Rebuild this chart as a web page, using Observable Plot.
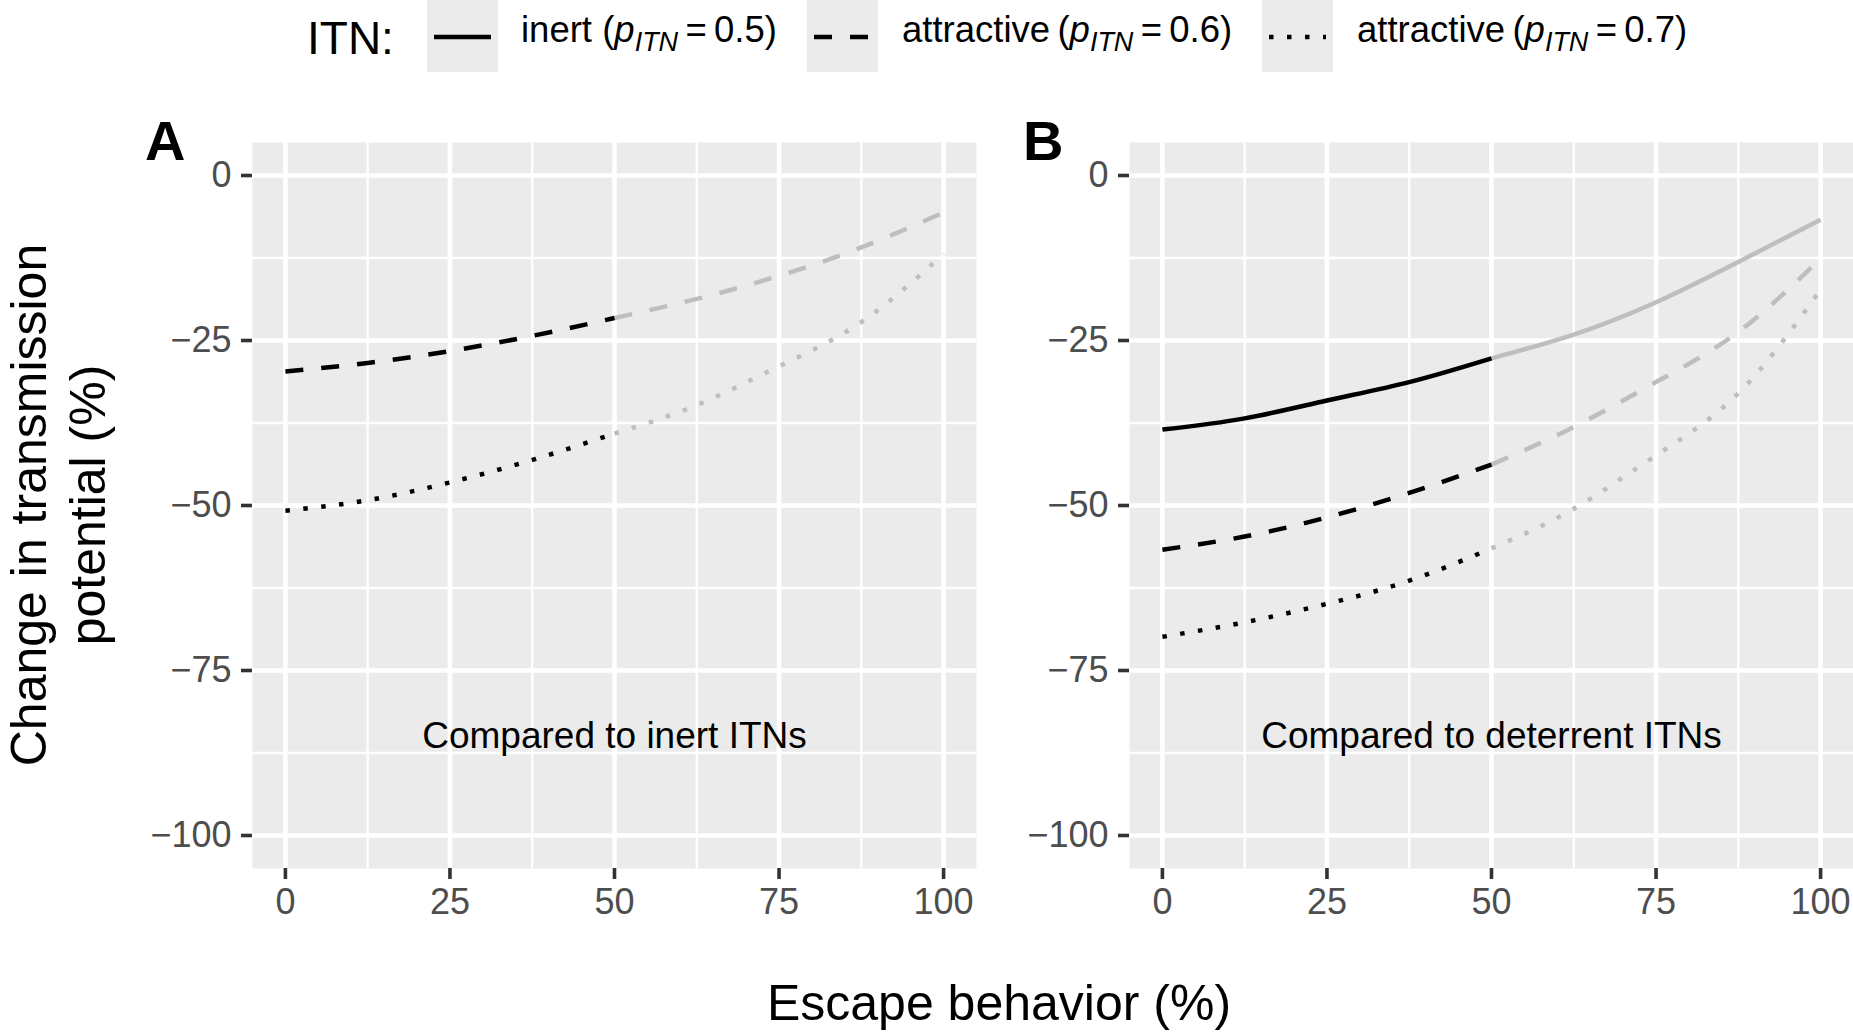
<!DOCTYPE html>
<html>
<head>
<meta charset="utf-8">
<script src="https://cdn.jsdelivr.net/npm/d3@7"></script>
<script src="https://cdn.jsdelivr.net/npm/@observablehq/plot@0.6"></script>
<style>
  html, body { margin: 0; padding: 0; background: white; }
  body { width: 1853px; height: 1032px; position: relative; overflow: hidden;
         font-family: "Liberation Sans", Arial, Helvetica, sans-serif; }
  .plot { position: absolute; top: 142px; }
  #overlay { position: absolute; left: 0; top: 0; pointer-events: none; }
</style>
</head>
<body>
<div id="plotA" class="plot" style="left:140px"></div>
<div id="plotB" class="plot" style="left:1017px"></div>
<svg id="overlay" width="1853" height="1032"></svg>
<script>
// ---- data ----
const escape = [0, 12.5, 25, 37.5, 50, 62.5, 75, 87.5, 100];
// Panel A: compared to inert ITNs
const panelA_attractive06 = [-29.7, -28.4, -26.6, -24.3, -21.6, -18.7, -15.2, -10.9, -5.6];
const panelA_attractive07 = [-50.8, -49.2, -46.5, -43.1, -39.1, -34.8, -28.9, -22.2, -11.9];
// Panel B: compared to deterrent ITNs
const panelB_inert05 = [-38.5, -36.8, -34.1, -31.3, -27.7, -24.1, -19.2, -13.1, -6.7];
const panelB_attractive06 = [-56.7, -54.7, -51.8, -48.1, -43.8, -38.1, -31.3, -23.7, -12.6];
const panelB_attractive07 = [-69.9, -67.7, -64.9, -61.4, -56.5, -50.5, -42.4, -33.0, -17.3];
const splitAt = 50; // black up to here, grey afterwards

const xTicks = [0, 25, 50, 75, 100];
const yTicks = [0, -25, -50, -75, -100];
const xMinor = [12.5, 37.5, 62.5, 87.5];
const yMinor = [-12.5, -37.5, -62.5, -87.5];
const xDomain = [-5, 105];
const yDomain = [-105, 5];

const seriesNames = ["inert05", "attractive06", "attractive07"];
const legendLabels = [
  {name: "inert05", word: "inert\u00a0(", value: "0.5"},
  {name: "attractive06", word: "attractive\u2009(", value: "0.6"},
  {name: "attractive07", word: "attractive\u2009(", value: "0.7"}
];
const annotations = [
  {panel: "A", x: 50, y: -85, text: "Compared to inert ITNs"},
  {panel: "B", x: 50, y: -85, text: "Compared to deterrent ITNs"}
];
const panelLetters = ["A", "B"];

// ---- styling ----
const LW = 4.5;
const dash = {inert05: null, attractive06: "18,18", attractive07: "4.5,13.5"};
const BLACK = "#000000", GREY = "#BEBEBE";
const FONT = '"Liberation Sans", Arial, Helvetica, sans-serif';
const minusFmt = d => d < 0 ? "\u2212" + Math.abs(d) : String(d);

function rows(values) {
  return escape.map((x, i) => ({x, y: values[i]}));
}

function panel(seriesMap, letter) {
  const marks = [
    Plot.frame({fill: "#EBEBEB", stroke: "none"}),
    Plot.ruleX(xMinor, {stroke: "white", strokeWidth: 2.3}),
    Plot.ruleY(yMinor, {stroke: "white", strokeWidth: 2.3}),
    Plot.ruleX(xTicks, {stroke: "white", strokeWidth: 4.6}),
    Plot.ruleY(yTicks, {stroke: "white", strokeWidth: 4.6})
  ];
  for (const name of seriesNames) {
    if (!seriesMap[name]) continue;
    const r = rows(seriesMap[name]);
    const common = {x: "x", y: "y", strokeWidth: LW, strokeLinecap: "butt",
                    strokeLinejoin: "round", curve: "natural"};
    if (dash[name]) common.strokeDasharray = dash[name];
    marks.push(Plot.line(r.filter(d => d.x >= splitAt), {...common, stroke: GREY}));
    marks.push(Plot.line(r.filter(d => d.x <= splitAt), {...common, stroke: BLACK}));
  }
  marks.push(Plot.text(annotations.filter(a => a.panel === letter),
    {x: "x", y: "y", text: "text", fontSize: 37, fill: "black"}));
  marks.push(Plot.axisY(yTicks, {tickSize: 11, tickPadding: 10, fontSize: 36,
    stroke: "#333333", strokeWidth: 3.6, fill: "#4D4D4D", tickFormat: minusFmt, label: null}));
  marks.push(Plot.axisX(xTicks, {tickSize: 11, tickPadding: 9, fontSize: 36,
    stroke: "#333333", strokeWidth: 3.6, fill: "#4D4D4D", tickFormat: minusFmt, label: null}));
  return Plot.plot({
    width: 836, height: 786,
    marginLeft: 112, marginRight: 0, marginTop: 0, marginBottom: 60,
    x: {domain: xDomain, label: null},
    y: {domain: yDomain, label: null},
    style: {background: "transparent", fontFamily: FONT, overflow: "visible"},
    marks
  });
}

document.getElementById("plotA").append(panel({
  attractive06: panelA_attractive06, attractive07: panelA_attractive07
}, "A"));
document.getElementById("plotB").append(panel({
  inert05: panelB_inert05, attractive06: panelB_attractive06, attractive07: panelB_attractive07
}, "B"));

// ---- overlay: legend, titles, panel letters ----
const svg = d3.select("#overlay").style("font-family", FONT);

// legend
svg.append("text").attr("x", 307).attr("y", 54).attr("font-size", 46).text("ITN:");
const keyX = [427, 807, 1262];
const labelX = [521, 902, 1357];
legendLabels.forEach((l, i) => {
  svg.append("rect").attr("x", keyX[i]).attr("y", 0).attr("width", 71).attr("height", 72)
     .attr("fill", "#EBEBEB");
  const ln = svg.append("line").attr("x1", keyX[i] + 7).attr("x2", keyX[i] + 64)
     .attr("y1", 37).attr("y2", 37).attr("stroke", "black").attr("stroke-width", LW);
  if (dash[l.name]) ln.attr("stroke-dasharray", dash[l.name]);
  const t = svg.append("text").attr("x", labelX[i]).attr("y", 42).attr("font-size", 36.5);
  t.append("tspan").text(l.word);
  t.append("tspan").attr("font-style", "italic").text("p");
  t.append("tspan").attr("font-style", "italic").attr("font-size", 27).attr("dy", 9).text("ITN");
  t.append("tspan").attr("dy", -9).text("\u2009=\u2009" + l.value + ")");
});

// panel letters
svg.append("text").attr("x", 145).attr("y", 160).attr("font-size", 56).attr("font-weight", "bold").text(panelLetters[0]);
svg.append("text").attr("x", 1023).attr("y", 160).attr("font-size", 56).attr("font-weight", "bold").text(panelLetters[1]);

// x title
svg.append("text").attr("x", 999).attr("y", 1020).attr("font-size", 50)
   .attr("text-anchor", "middle").text("Escape behavior (%)");

// y title (two lines)
const yt = svg.append("g").attr("transform", "translate(0,505) rotate(-90)");
yt.append("text").attr("x", 0).attr("y", 45.5).attr("font-size", 50).attr("text-anchor", "middle")
  .text("Change in transmission");
yt.append("text").attr("x", 0).attr("y", 105).attr("font-size", 50).attr("text-anchor", "middle")
  .text("potential (%)");
</script>
</body>
</html>
